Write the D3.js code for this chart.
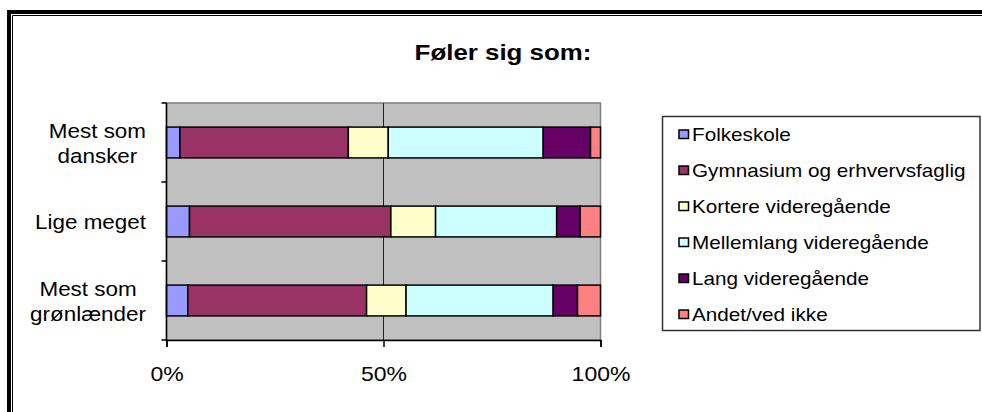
<!DOCTYPE html>
<html>
<head>
<meta charset="utf-8">
<script src="https://cdn.jsdelivr.net/npm/d3@7"></script>
<style>
  body { margin: 0; background: #fff; }
  svg { display: block; font-family: "Liberation Sans", Arial, sans-serif; }
</style>
</head>
<body>
<svg id="chart"></svg>
<script>
// chart data (percent of each group)
var categories = [["Mest som", "dansker"], ["Lige meget"], ["Mest som", "grønlænder"]];
var seriesNames = ["Folkeskole", "Gymnasium og erhvervsfaglig", "Kortere videregående",
                   "Mellemlang videregående", "Lang videregående", "Andet/ved ikke"];
var folkeskole = [3.1, 5.3, 4.9];
var gymnasium  = [38.8, 46.4, 41.2];
var kortere    = [9.2, 10.3, 9.1];
var mellemlang = [35.7, 27.9, 33.9];
var lang       = [10.9, 5.4, 5.6];
var andet      = [2.3, 4.7, 5.3];
var tickValues = [0, 50, 100];
var colors = ["#9999FF", "#993366", "#FFFFCC", "#CCFFFF", "#660066", "#FF8080"];

var width = 982, height = 412;
var stretch = 1.15; // text in the picture is drawn a bit wide

var svg = d3.select("#chart").attr("width", width).attr("height", height);

// outer frame (double line)
svg.append("path").attr("d", "M9,412 V12 H982").attr("fill", "none")
    .attr("stroke", "#000").attr("stroke-width", 4);
svg.append("path").attr("d", "M12.5,412 V15.5 H982").attr("fill", "none")
    .attr("stroke", "#000").attr("stroke-width", 1);

// title
svg.append("text")
    .attr("transform", "translate(503,60) scale(" + stretch + ",1)")
    .attr("text-anchor", "middle")
    .style("font-size", "22.5px").style("font-weight", "bold")
    .text("Føler sig som:");

// scales
var plot = {left: 166.5, right: 600.5, top: 103, bottom: 340};
var keys = categories.map(function (c) { return c.join(" "); });
var x = d3.scaleLinear().domain([0, 100]).range([plot.left, plot.right]);
var yBand = d3.scaleBand().domain(keys).range([plot.top, plot.bottom]);
var yBar = d3.scaleBand().domain(keys).range([plot.top, plot.bottom])
    .paddingInner(0.61).paddingOuter(0.305);

// plot background
svg.append("rect")
    .attr("x", plot.left).attr("y", plot.top)
    .attr("width", plot.right - plot.left).attr("height", plot.bottom - plot.top)
    .attr("fill", "#C0C0C0").attr("stroke", "#808080").attr("stroke-width", 1.5);

// gridline at 50%
svg.append("line")
    .attr("x1", x(50)).attr("x2", x(50)).attr("y1", plot.top).attr("y2", plot.bottom)
    .attr("stroke", "#222").attr("stroke-width", 1);

// stacked data
var rows = keys.map(function (k, i) {
    var r = {key: k};
    r[seriesNames[0]] = folkeskole[i];
    r[seriesNames[1]] = gymnasium[i];
    r[seriesNames[2]] = kortere[i];
    r[seriesNames[3]] = mellemlang[i];
    r[seriesNames[4]] = lang[i];
    r[seriesNames[5]] = andet[i];
    return r;
});
var stacked = d3.stack().keys(seriesNames)(rows);

svg.append("g").selectAll("g")
    .data(stacked)
    .enter().append("g")
    .attr("fill", function (d, i) { return colors[i]; })
    .selectAll("rect")
    .data(function (d) { return d; })
    .enter().append("rect")
        .attr("x", function (d) { return x(d[0]); })
        .attr("width", function (d) { return x(d[1]) - x(d[0]); })
        .attr("y", function (d) { return yBar(d.data.key); })
        .attr("height", yBar.bandwidth())
        .attr("stroke", "#000").attr("stroke-width", 1.5);

// y axis (category ticks at band edges)
svg.append("line")
    .attr("x1", plot.left).attr("x2", plot.left).attr("y1", plot.top).attr("y2", plot.bottom)
    .attr("stroke", "#000").attr("stroke-width", 1.5);
var edges = keys.map(function (k) { return yBand(k); }).concat([plot.bottom]);
svg.append("g").selectAll("line")
    .data(edges)
    .enter().append("line")
        .attr("x1", plot.left - 5).attr("x2", plot.left)
        .attr("y1", function (d) { return d; }).attr("y2", function (d) { return d; })
        .attr("stroke", "#000").attr("stroke-width", 1.5);

// category labels: block right-aligned, lines centered within block
var labelRight = 146;
var labelG = svg.append("g").style("font-size", "19.5px");
categories.forEach(function (lines, i) {
    var c = yBand(keys[i]) + yBand.bandwidth() / 2;
    var g = labelG.append("g");
    var texts = lines.map(function (t, j) {
        var base = lines.length === 1 ? c + 7 : c - 5 + j * 25;
        return g.append("text").attr("text-anchor", "middle").attr("y", base).text(t);
    });
    var maxW = d3.max(texts, function (t) { return t.node().getComputedTextLength(); }) * stretch;
    var cx = labelRight - maxW / 2;
    texts.forEach(function (t) {
        var yy = +t.attr("y");
        t.attr("y", null).attr("transform", "translate(" + cx + "," + yy + ") scale(" + stretch + ",1)");
    });
});

// x axis
var xAxis = d3.axisBottom(x).tickValues(tickValues)
    .tickFormat(function (d) { return d + "%"; })
    .tickSize(7).tickPadding(20);
var xg = svg.append("g").attr("transform", "translate(0," + plot.bottom + ")").call(xAxis);
xg.select(".domain").attr("stroke", "#000").attr("stroke-width", 1.5);
xg.selectAll(".tick line").attr("stroke", "#000").attr("stroke-width", 1.5);
xg.selectAll(".tick text")
    .attr("fill", "#000").style("font-size", "20px")
    .style("font-family", "'Liberation Sans', Arial, sans-serif")
    .attr("transform", "scale(" + stretch + ",1)");

// legend
var legend = {left: 662.5, top: 116.5, right: 980, bottom: 330.5};
svg.append("rect")
    .attr("x", legend.left).attr("y", legend.top)
    .attr("width", legend.right - legend.left).attr("height", legend.bottom - legend.top)
    .attr("fill", "#fff").attr("stroke", "#333").attr("stroke-width", 1.5);

var items = svg.append("g").selectAll("g")
    .data(seriesNames)
    .enter().append("g")
    .attr("transform", function (d, i) { return "translate(679," + (134.5 + i * 36) + ")"; });
items.append("rect")
    .attr("x", 0).attr("y", -4.5).attr("width", 9.5).attr("height", 8.5)
    .attr("fill", function (d, i) { return colors[i]; })
    .attr("stroke", "#000").attr("stroke-width", 1.5);
items.append("text")
    .attr("transform", "translate(13,6.5) scale(" + stretch + ",1)")
    .style("font-size", "18px")
    .text(function (d) { return d; });
</script>
</body>
</html>
